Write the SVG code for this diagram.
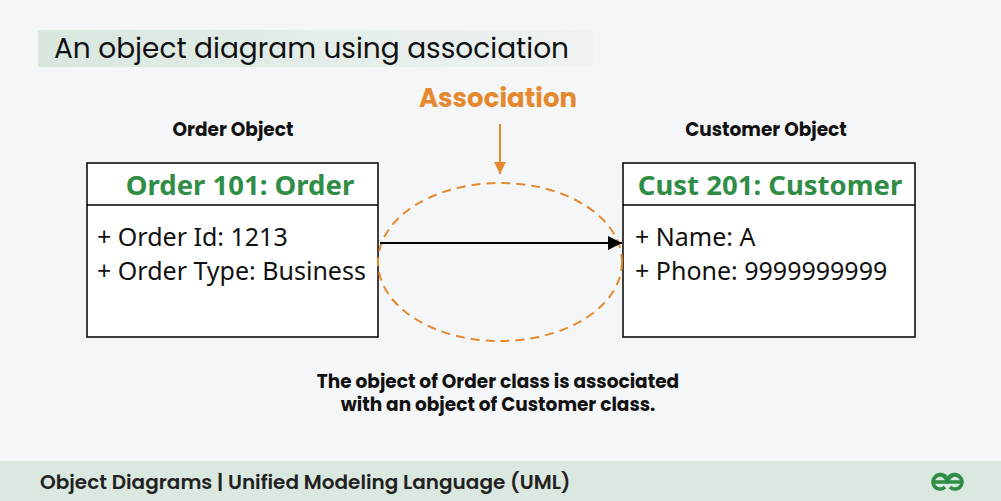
<svg xmlns="http://www.w3.org/2000/svg" width="1001" height="501" viewBox="0 0 1001 501">
<defs>
<linearGradient id="tg" x1="0" x2="1" y1="0" y2="0"><stop offset="0" stop-color="#d9e7df"/><stop offset="1" stop-color="#eff3f2"/></linearGradient>
<marker id="ah" viewBox="0 0 10 10" refX="10" refY="5" markerWidth="14" markerHeight="14" markerUnits="userSpaceOnUse" orient="auto"><path d="M0,0 L10,5 L0,10 z" fill="#000"/></marker>
<marker id="oh" viewBox="0 0 10 10" refX="10" refY="5" markerWidth="12" markerHeight="12" markerUnits="userSpaceOnUse" orient="auto"><path d="M0,0 L10,5 L0,10 z" fill="#e5892e"/></marker>
</defs>
<style>
.f{font-family:"Poppins","Inter","Liberation Sans",sans-serif}
.n{font-family:"Noto Sans","Open Sans","Liberation Sans",sans-serif}
.box{fill:#fff;stroke:#000;stroke-width:1.5}
.hd{font-size:27.5px;font-weight:bold;fill:#2f8d46;text-anchor:middle}
.at{font-size:25px;fill:#111}
.lb{font-size:18.5px;font-weight:bold;fill:#111;text-anchor:middle}
</style>
<rect width="1001" height="501" fill="#f4f6f7"/>
<rect x="38" y="30" width="555" height="37" fill="url(#tg)"/>
<text class="f" x="54" y="58" font-size="28" fill="#111">An object diagram using association</text>
<text class="f" x="498" y="107" font-size="26" font-weight="bold" fill="#e5892e" text-anchor="middle">Association</text>
<text class="f lb" x="233" y="136">Order Object</text>
<text class="f lb" x="766" y="136">Customer Object</text>
<g id="order">
<rect class="box" x="87" y="163" width="291" height="174"/>
<line x1="87" y1="205" x2="378" y2="205" stroke="#000" stroke-width="1.5"/>
<text class="n hd" x="240" y="195">Order 101: Order</text>
<text class="n at" x="97" y="246">+ Order Id: 1213</text>
<text class="n at" x="97" y="280">+ Order Type: Business</text>
</g>
<g id="customer">
<rect class="box" x="623" y="163" width="292" height="174"/>
<line x1="623" y1="205" x2="915" y2="205" stroke="#000" stroke-width="1.5"/>
<text class="n hd" x="770" y="195">Cust 201: Customer</text>
<text class="n at" x="635" y="246">+ Name: A</text>
<text class="n at" x="635" y="280">+ Phone: 9999999999</text>
</g>
<g id="connectors">
<ellipse cx="500" cy="262" rx="122" ry="79" fill="none" stroke="#e5892e" stroke-width="2" stroke-dasharray="9,6"/>
<line x1="500" y1="124" x2="500" y2="174" stroke="#e5892e" stroke-width="2" marker-end="url(#oh)"/>
<line x1="380" y1="243" x2="622" y2="243" stroke="#000" stroke-width="2" marker-end="url(#ah)"/>
</g>
<text class="f lb" x="498" y="388">The object of Order class is associated</text>
<text class="f lb" x="498" y="411">with an object of Customer class.</text>
<rect x="0" y="461" width="1001" height="40" fill="#dbe8e0"/>
<text class="f" x="40" y="489" font-size="20" font-weight="600" fill="#222">Object Diagrams | Unified Modeling Language (UML)</text>
<g fill="none" stroke="#2f8d46" stroke-width="3.5">
<path d="M932,482 h15 a7,7 0 1 0 -2,5 M935,477 a7,7 0 0 1 12,2"/>
<path d="M963,482 h-15 a7,7 0 1 1 2,5 M960,477 a7,7 0 0 0 -12,2"/>
</g>
</svg>
